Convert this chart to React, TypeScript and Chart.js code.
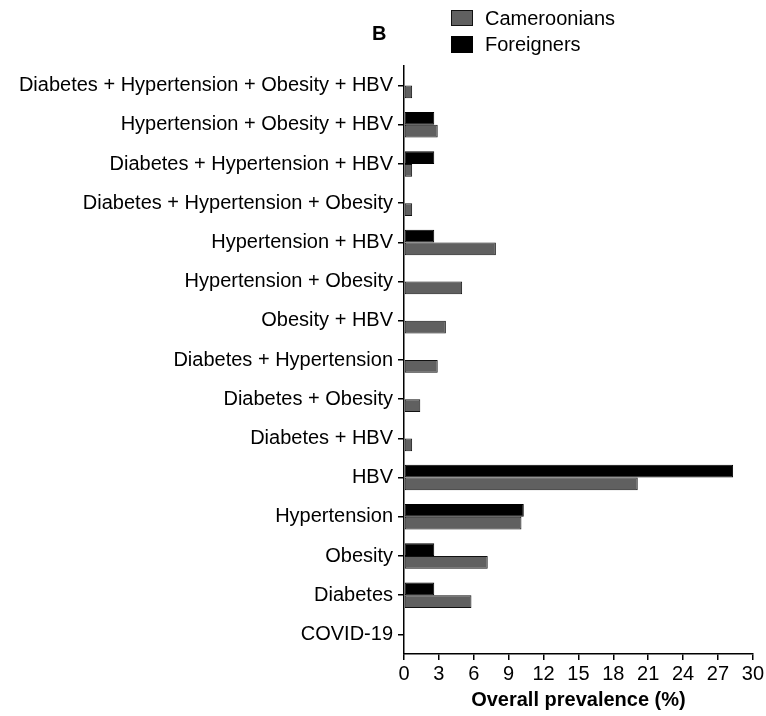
import React, { useEffect, useRef } from "react";
import { Chart, registerables } from "chart.js";

Chart.register(...registerables);

const categories = [
  "Diabetes + Hypertension + Obesity + HBV",
  "Hypertension + Obesity + HBV",
  "Diabetes + Hypertension + HBV",
  "Diabetes + Hypertension + Obesity",
  "Hypertension + HBV",
  "Hypertension + Obesity",
  "Obesity + HBV",
  "Diabetes + Hypertension",
  "Diabetes + Obesity",
  "Diabetes + HBV",
  "HBV",
  "Hypertension",
  "Obesity",
  "Diabetes",
  "COVID-19",
];

const foreigners = [0, 2.6, 2.6, 0, 2.6, 0, 0, 0, 0, 0, 28.3, 10.3, 2.6, 2.6, 0];
const cameroonians = [0.7, 2.9, 0.7, 0.7, 7.9, 5.0, 3.6, 2.9, 1.4, 0.7, 20.1, 10.1, 7.2, 5.8, 0];

const xMin = 0;
const xMax = 30;
const xStep = 3;

const FONT = "'Liberation Sans', Arial, Helvetica, sans-serif";
const GRAY = "#606060";

export default function App() {
  const canvasRef = useRef<HTMLCanvasElement | null>(null);

  useEffect(() => {
    document.body.style.margin = "0";
    const canvas = canvasRef.current;
    if (!canvas) return;
    const chart = new Chart(canvas, {
      type: "bar",
      data: {
        labels: categories,
        datasets: [
          {
            label: "Foreigners",
            data: foreigners,
            backgroundColor: "#000000",
            borderColor: "#000000",
            borderWidth: 1,
            borderSkipped: false,
            categoryPercentage: 0.65,
            barPercentage: 1.0,
          },
          {
            label: "Cameroonians",
            data: cameroonians,
            backgroundColor: GRAY,
            borderColor: "#111111",
            borderWidth: 1,
            borderSkipped: false,
            categoryPercentage: 0.65,
            barPercentage: 1.0,
          },
        ],
      },
      options: {
        indexAxis: "y",
        animation: false,
        responsive: true,
        maintainAspectRatio: false,
        layout: { padding: { left: 0, right: 11, top: 66, bottom: 0 } },
        plugins: {
          legend: { display: false },
          tooltip: { enabled: false },
          title: { display: false },
        },
        scales: {
          x: {
            type: "linear",
            min: xMin,
            max: xMax,
            ticks: {
              stepSize: xStep,
              color: "#000",
              font: { family: FONT, size: 20 },
              padding: 2,
              maxRotation: 0,
            },
            grid: {
              display: true,
              drawOnChartArea: false,
              drawTicks: true,
              tickLength: 6,
              color: "#000",
              lineWidth: 1.5,
            },
            border: { display: true, color: "#000", width: 1.5 },
            title: {
              display: true,
              text: "Overall prevalence (%)",
              color: "#000",
              font: { family: FONT, size: 20, weight: "bold" },
              padding: { top: 0, bottom: 4 },
            },
            afterFit: (scale: any) => {
              scale.height = 62;
            },
          },
          y: {
            type: "category",
            offset: true,
            ticks: {
              color: "#000",
              font: { family: FONT, size: 20 },
              padding: 5,
              autoSkip: false,
            },
            grid: {
              display: true,
              offset: false,
              drawOnChartArea: false,
              drawTicks: true,
              tickLength: 6,
              color: "#000",
              lineWidth: 1.5,
            },
            border: { display: true, color: "#000", width: 1.5 },
            afterFit: (scale: any) => {
              scale.width = 404;
            },
          },
        },
      },
    });
    return () => chart.destroy();
  }, []);

  return (
    <div style={{ position: "relative", width: 766, height: 716, fontFamily: FONT }}>
      <canvas ref={canvasRef} />
      <div
        style={{
          position: "absolute",
          left: 372,
          top: 21,
          fontSize: 20,
          fontWeight: "bold",
          lineHeight: "24px",
          color: "#000",
        }}
      >
        B
      </div>
      <div style={{ position: "absolute", left: 451, top: 6, fontSize: 20, lineHeight: "24px", color: "#000" }}>
        <div style={{ display: "flex", alignItems: "center", height: 24 }}>
          <span
            style={{
              display: "inline-block",
              width: 20,
              height: 14,
              background: GRAY,
              border: "1px solid #111",
              marginRight: 12,
            }}
          />
          <span>Cameroonians</span>
        </div>
        <div style={{ display: "flex", alignItems: "center", height: 24, marginTop: 2 }}>
          <span
            style={{
              display: "inline-block",
              width: 20,
              height: 15,
              background: "#000",
              border: "1px solid #000",
              marginRight: 12,
            }}
          />
          <span>Foreigners</span>
        </div>
      </div>
    </div>
  );
}
